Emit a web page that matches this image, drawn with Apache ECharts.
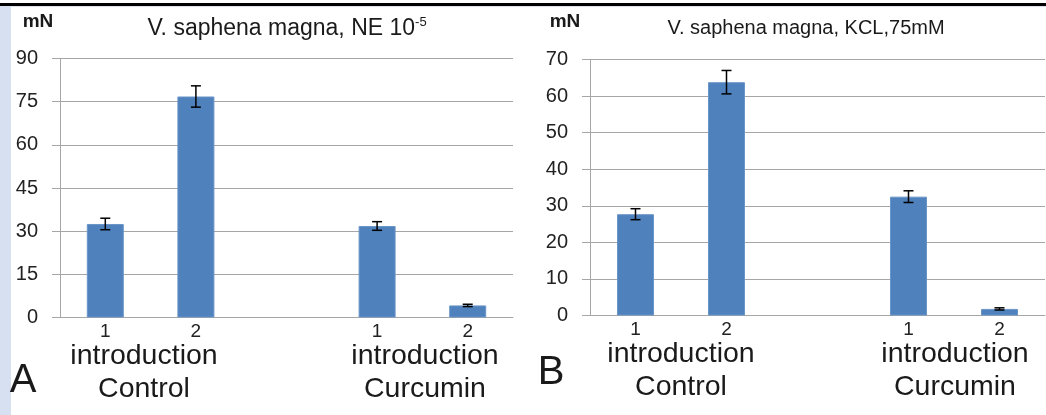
<!DOCTYPE html>
<html>
<head>
<meta charset="utf-8">
<script src="https://cdn.jsdelivr.net/npm/echarts@6/dist/echarts.min.js"></script>
<style>
  html, body { margin: 0; padding: 0; background: #fff; }
  #chart { width: 1046px; height: 415px; }
</style>
</head>
<body>
<div id="chart"></div>
<script>
// Chart data
const categories = ['1', '2', '', '1', '2'];

// A: V. saphena magna, NE 10-5
const neValues = [32.5, 76.8, null, 31.8, 4.2];
const neErrors = [2.0, 3.7, null, 1.5, 0.4];
const neTicks = { min: 0, max: 90, interval: 15 };

// B: V. saphena magna, KCL 75mM
const kclValues = [27.7, 63.8, null, 32.5, 1.8];
const kclErrors = [1.5, 3.2, null, 1.6, 0.3];
const kclTicks = { min: 0, max: 70, interval: 10 };

const FONT = "'Liberation Sans', Arial, sans-serif";
const BAR_COLOR = '#4f81bd';
const GRID_COLOR = '#a6a6a6';

// Build error bar data [x, low, high] from values/errors
function errorData(values, errors) {
    const out = [];
    values.forEach((v, i) => {
        if (v == null) return;
        out.push([i, v - errors[i], v + errors[i]]);
    });
    return out;
}

// Draw an error bar with caps through the axis scale
function renderError(params, api) {
    const x = api.value(0);
    const lo = api.coord([x, api.value(1)]);
    const hi = api.coord([x, api.value(2)]);
    const w = 5;
    const style = { stroke: '#000', lineWidth: 1.5 };
    return {
        type: 'group',
        children: [
            { type: 'line', shape: { x1: lo[0], y1: hi[1], x2: lo[0], y2: lo[1] }, style: style },
            { type: 'line', shape: { x1: lo[0] - w, y1: hi[1], x2: lo[0] + w, y2: hi[1] }, style: style },
            { type: 'line', shape: { x1: lo[0] - w, y1: lo[1], x2: lo[0] + w, y2: lo[1] }, style: style }
        ]
    };
}

function xAxisFor(gridIndex) {
    return {
        type: 'category',
        gridIndex: gridIndex,
        data: categories,
        axisLine: { lineStyle: { color: GRID_COLOR, width: 1 } },
        axisTick: { show: false },
        axisLabel: { color: '#222', fontFamily: FONT, fontSize: 19, margin: 5, interval: 0 }
    };
}

function yAxisFor(gridIndex, ticks) {
    return {
        type: 'value',
        gridIndex: gridIndex,
        min: ticks.min,
        max: ticks.max,
        interval: ticks.interval,
        axisLine: { show: true, lineStyle: { color: GRID_COLOR, width: 1 } },
        axisTick: { show: true, length: 8, lineStyle: { color: GRID_COLOR } },
        axisLabel: { color: '#222', fontFamily: FONT, fontSize: 20, margin: 22 },
        splitLine: { lineStyle: { color: GRID_COLOR, width: 1 } }
    };
}

function text(x, y, str, size, weight) {
    return {
        type: 'text',
        x: x,
        y: y,
        style: {
            text: str,
            font: (weight || 'normal') + ' ' + size + 'px ' + FONT,
            fill: '#1a1a1a',
            textAlign: 'center',
            textVerticalAlign: 'middle',
            align: 'center',
            verticalAlign: 'middle'
        }
    };
}

const chart = echarts.init(document.getElementById('chart'), null, { renderer: 'canvas' });

const options = {
    backgroundColor: '#fff',
    animation: false,
    grid: [
        { left: 60, right: 533, top: 58.5, bottom: 97.5 },
        { left: 590, right: 1, top: 59.5, bottom: 99.5 }
    ],
    xAxis: [xAxisFor(0), xAxisFor(1)],
    yAxis: [yAxisFor(0, neTicks), yAxisFor(1, kclTicks)],
    series: [
        {
            type: 'bar', xAxisIndex: 0, yAxisIndex: 0,
            data: neValues, barWidth: 37,
            itemStyle: { color: BAR_COLOR, borderColor: '#6a95c8', borderWidth: 1 }
        },
        {
            type: 'custom', xAxisIndex: 0, yAxisIndex: 0,
            data: errorData(neValues, neErrors), renderItem: renderError, z: 5
        },
        {
            type: 'bar', xAxisIndex: 1, yAxisIndex: 1,
            data: kclValues, barWidth: 37,
            itemStyle: { color: BAR_COLOR, borderColor: '#6a95c8', borderWidth: 1 }
        },
        {
            type: 'custom', xAxisIndex: 1, yAxisIndex: 1,
            data: errorData(kclValues, kclErrors), renderItem: renderError, z: 5
        }
    ],
    graphic: [
        // frame bits
        { type: 'rect', shape: { x: 0, y: 3, width: 1046, height: 3 }, style: { fill: '#000' } },
        { type: 'rect', shape: { x: 0, y: 6, width: 1046, height: 1 }, style: { fill: '#dae3f3' } },
        { type: 'rect', shape: { x: 0, y: 6, width: 11, height: 409 }, style: { fill: '#d6e0f1' } },
        // units
        text(38, 22, 'mN', 19, 'bold'),
        text(565, 22, 'mN', 19, 'bold'),
        // titles
        {
            type: 'text', x: 287, y: 28,
            style: {
                text: '{m|V. saphena magna, NE 10}{s|-5}',
                textAlign: 'center', textVerticalAlign: 'middle', align: 'center', verticalAlign: 'middle',
                rich: {
                    m: { font: '23px ' + FONT, fill: '#1a1a1a', lineHeight: 25, verticalAlign: 'bottom' },
                    s: { font: '13px ' + FONT, fill: '#1a1a1a', lineHeight: 25, verticalAlign: 'top' }
                }
            }
        },
        text(806, 28, 'V. saphena magna, KCL,75mM', 20),
        // group labels
        text(144, 356, 'introduction', 28.5),
        text(144, 389, 'Control', 28.5),
        text(425, 356, 'introduction', 28.5),
        text(425, 389, 'Curcumin', 28.5),
        text(681, 354, 'introduction', 28.5),
        text(681, 387, 'Control', 28.5),
        text(955, 354, 'introduction', 28.5),
        text(955, 387, 'Curcumin', 28.5),
        // panel letters
        text(23, 381, 'A', 40),
        text(551, 373, 'B', 40)
    ]
};

chart.setOption(options);
</script>
</body>
</html>
